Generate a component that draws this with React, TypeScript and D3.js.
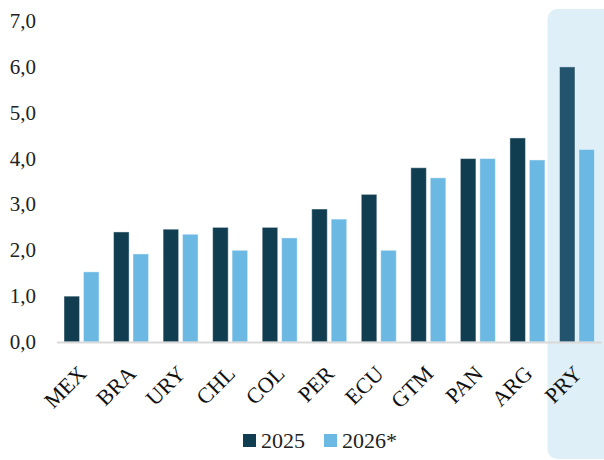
import React, { useEffect, useRef } from 'react';
import * as d3 from 'd3';

const countries = ['MEX', 'BRA', 'URY', 'CHL', 'COL', 'PER', 'ECU', 'GTM', 'PAN', 'ARG', 'PRY'];
const series = ['2025', '2026*'];
const values2025 = [1.0, 2.4, 2.46, 2.5, 2.5, 2.9, 3.22, 3.8, 4.0, 4.45, 6.0];
const values2026 = [1.53, 1.92, 2.35, 2.0, 2.27, 2.68, 2.0, 3.58, 4.0, 3.97, 4.2];
const yTicks = [0, 1, 2, 3, 4, 5, 6, 7];
const highlight = 'PRY';

const dark = '#113d50';
const darkHighlight = '#22546d';
const light = '#6bb8e3';

export default function App() {
  const svgRef = useRef<SVGSVGElement>(null);

  useEffect(() => {
    if (!svgRef.current) return;
    const svg = d3.select(svgRef.current);
    svg.selectAll('*').remove();

    const font = '"Liberation Serif", "Times New Roman", serif';

    const x0 = d3.scaleBand<string>().domain(countries).range([57, 602]).padding(0);
    const x1 = d3.scaleBand<string>().domain(series).range([7, 42]).paddingInner(0.2);
    const y = d3.scaleLinear().domain([0, 7]).range([342, 21]);

    // Highlight panel
    const hx = x0(highlight)! - 5;
    svg.append('rect')
      .attr('x', hx)
      .attr('y', 9)
      .attr('width', 620 - hx)
      .attr('height', 450)
      .attr('rx', 10)
      .attr('fill', '#dfeff8');

    // Y tick labels
    svg.append('g')
      .selectAll('text')
      .data(yTicks)
      .enter()
      .append('text')
      .attr('x', 36)
      .attr('y', (d) => y(d) + 7)
      .attr('text-anchor', 'end')
      .attr('font-family', font)
      .attr('font-size', 21)
      .attr('fill', '#222')
      .text((d) => d3.format('.1f')(d).replace('.', ','));

    // Bars
    const rows = countries.map((c, i) => ({ c, v: [values2025[i], values2026[i]] }));
    const groups = svg.append('g')
      .selectAll('g')
      .data(rows)
      .enter()
      .append('g')
      .attr('transform', (d) => `translate(${x0(d.c)},0)`);

    groups.selectAll('rect')
      .data((d) => d.v.map((v, j) => ({ c: d.c, s: series[j], v })))
      .enter()
      .append('rect')
      .attr('x', (d) => x1(d.s)!)
      .attr('y', (d) => y(d.v))
      .attr('width', x1.bandwidth())
      .attr('height', (d) => y(0) - y(d.v))
      .attr('fill', (d) => d.s === '2025' ? (d.c === highlight ? darkHighlight : dark) : light)
      .attr('stroke', 'rgba(255,255,255,0.45)')
      .attr('stroke-width', 1);

    // Axis line
    svg.append('line')
      .attr('x1', 57)
      .attr('x2', 602)
      .attr('y1', y(0) + 0.5)
      .attr('y2', y(0) + 0.5)
      .attr('stroke', '#d9d9d9')
      .attr('stroke-width', 2);

    // X labels
    svg.append('g')
      .selectAll('text')
      .data(countries)
      .enter()
      .append('text')
      .attr('transform', (d) => `translate(${x0(d)! + x0.bandwidth() / 2 + 6},${y(0) + 33}) rotate(-45)`)
      .attr('text-anchor', 'end')
      .attr('font-family', font)
      .attr('font-size', 22)
      .attr('fill', '#111')
      .text((d) => d);

    // Legend
    const legend = svg.append('g');
    const legendX = [243, 324];
    series.forEach((s, i) => {
      legend.append('rect')
        .attr('x', legendX[i])
        .attr('y', 434)
        .attr('width', 13)
        .attr('height', 13)
        .attr('fill', i === 0 ? dark : light);
      legend.append('text')
        .attr('x', legendX[i] + 18)
        .attr('y', 448)
        .attr('font-family', font)
        .attr('font-size', 22)
        .attr('fill', '#222')
        .text(s);
    });
  }, []);

  return (
    <svg
      ref={svgRef}
      width={604}
      height={460}
      style={{ position: 'absolute', left: 0, top: 0, background: '#fff' }}
    />
  );
}
